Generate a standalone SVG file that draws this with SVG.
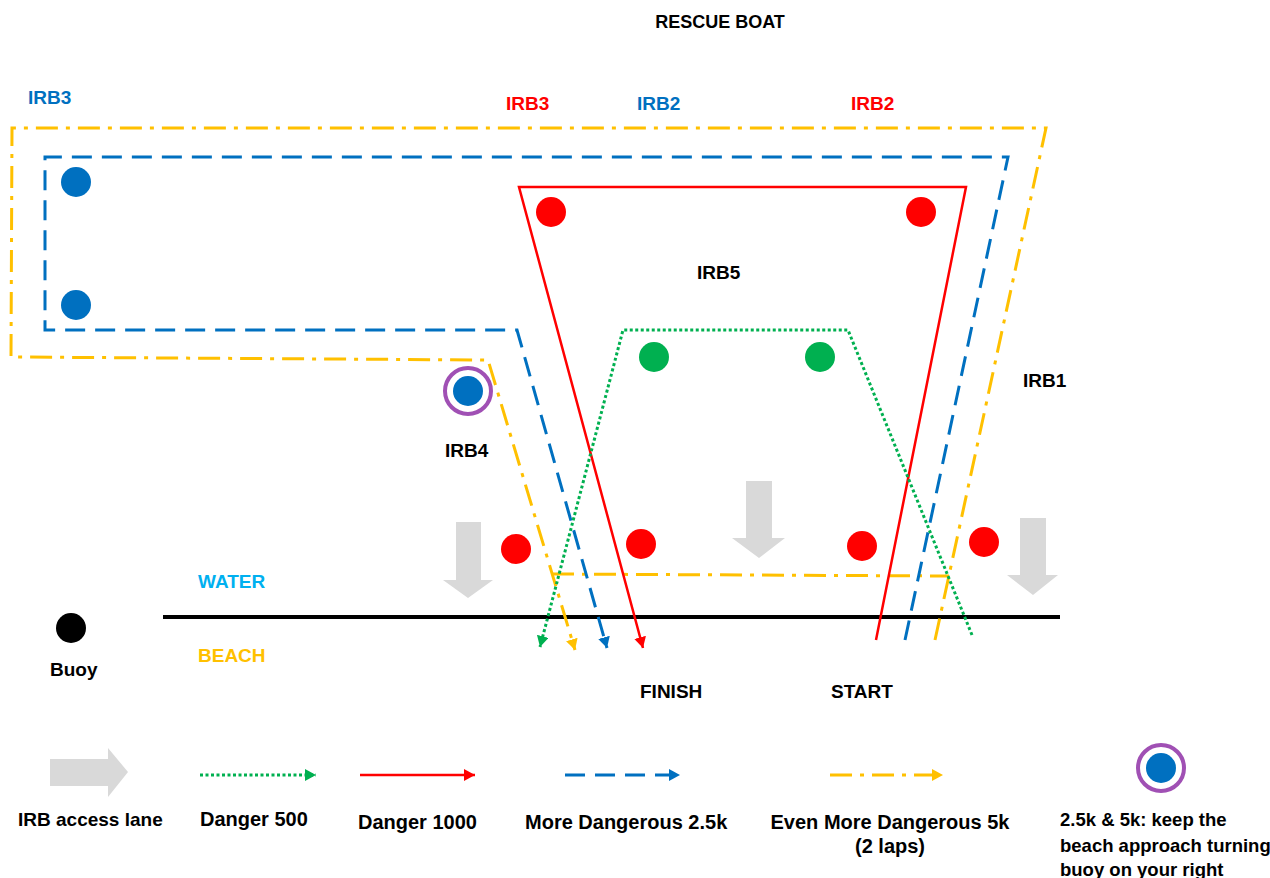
<svg xmlns="http://www.w3.org/2000/svg" width="1270" height="878" viewBox="0 0 1270 878">
<style>
text{font-family:"Liberation Sans",Arial,sans-serif;font-weight:bold;font-size:19px;fill:#000}
.lg{font-size:20px}.lr{font-size:18.5px}.tt{font-size:18px}
.blue{fill:#0070C0}.red{fill:#FF0000}.water{fill:#00B0F0}.beach{fill:#FFC000}
.r{fill:none;stroke:#FF0000;stroke-width:2.5}
.b{fill:none;stroke:#0070C0;stroke-width:3;stroke-dasharray:20 10}
.y{fill:none;stroke:#FFC000;stroke-width:3;stroke-dasharray:22 8 4 8}
.g{fill:none;stroke:#00B050;stroke-width:3;stroke-dasharray:3 2.5}
.lane{fill:#D9D9D9}
.bd{fill:#0070C0}.rd{fill:#FF0000}.gd{fill:#00B050}
.ring{fill:none;stroke:#A050B4;stroke-width:4}
</style>
<defs>
<marker id="ar" markerUnits="userSpaceOnUse" markerWidth="12" markerHeight="12" refX="11" refY="6" orient="auto"><path d="M0,0 L11,6 L0,12 Z" fill="#FF0000"/></marker>
<marker id="ab" markerUnits="userSpaceOnUse" markerWidth="12" markerHeight="12" refX="11" refY="6" orient="auto"><path d="M0,0 L11,6 L0,12 Z" fill="#0070C0"/></marker>
<marker id="ay" markerUnits="userSpaceOnUse" markerWidth="12" markerHeight="12" refX="11" refY="6" orient="auto"><path d="M0,0 L11,6 L0,12 Z" fill="#FFC000"/></marker>
<marker id="ag" markerUnits="userSpaceOnUse" markerWidth="12" markerHeight="12" refX="11" refY="6" orient="auto"><path d="M0,0 L11,6 L0,12 Z" fill="#00B050"/></marker>
</defs>

<g id="shoreline"><line x1="163" y1="617" x2="1060" y2="617" stroke="#000" stroke-width="4"/></g>

<g id="connectors">
<path class="y" d="M935,640 L1046,128 L12,128 L11,357 L488,360 L575,650" marker-end="url(#ay)"/>
<path class="y" d="M552,574 L949,576"/>
<path class="b" d="M905,640 L1008,157 L45,157 L45,330 L517,330 L607,648" marker-end="url(#ab)"/>
<path class="r" d="M876,640 L966,187 L519,187 L643,648" marker-end="url(#ar)"/>
<path class="g" d="M972,635 L848,330 L623,330 L540,647" marker-end="url(#ag)"/>
</g>

<g id="buoys-blue"><circle class="bd" cx="76" cy="182" r="15"/><circle class="bd" cx="76" cy="305" r="15"/></g>
<g id="buoy-irb4"><circle class="ring" cx="468" cy="391" r="23"/><circle class="bd" cx="468" cy="391" r="15"/></g>
<g id="buoys-red"><circle class="rd" cx="551" cy="212" r="15"/><circle class="rd" cx="921" cy="212" r="15"/><circle class="rd" cx="516" cy="549" r="15"/><circle class="rd" cx="641" cy="544" r="15"/><circle class="rd" cx="862" cy="546" r="15"/><circle class="rd" cx="984" cy="542" r="15"/></g>
<g id="buoys-green"><circle class="gd" cx="654" cy="357" r="15"/><circle class="gd" cx="820" cy="357" r="15"/></g>

<g id="lane-1"><polygon class="lane" points="456,522 481,522 481,580 493,580 468,598 443,580 456,580"/></g>
<g id="lane-2"><polygon class="lane" points="746,481 772,481 772,538 785,538 759,558 732,538 746,538"/></g>
<g id="lane-3"><polygon class="lane" points="1020,518 1046,518 1046,575 1058,575 1033,595 1007,575 1020,575"/></g>

<g id="labels">
<text class="tt" x="720" y="28" text-anchor="middle">RESCUE BOAT</text>
<text class="blue" x="28" y="104">IRB3</text>
<text class="red" x="506" y="110">IRB3</text>
<text class="blue" x="637" y="110">IRB2</text>
<text class="red" x="851" y="110">IRB2</text>
<text x="697" y="279">IRB5</text>
<text x="1023" y="387">IRB1</text>
<text x="445" y="457">IRB4</text>
<text class="water" x="198" y="588">WATER</text>
<text class="beach" x="198" y="662">BEACH</text>
<text x="640" y="698">FINISH</text>
<text x="831" y="698">START</text>
</g>
<g id="buoy-key"><circle cx="71" cy="628" r="15" fill="#000"/><text x="50" y="676">Buoy</text></g>

<g id="legend">
<g id="legend-lane"><polygon class="lane" points="50,759 108,759 108,748 128,772 108,797 108,786 50,786"/><text x="18" y="826">IRB access lane</text></g>
<g id="legend-500"><line class="g" x1="200" y1="775" x2="316" y2="775" marker-end="url(#ag)"/><text class="lg" x="200" y="826">Danger 500</text></g>
<g id="legend-1000"><line class="r" x1="360" y1="775" x2="475" y2="775" marker-end="url(#ar)"/><text class="lg" x="358" y="829">Danger 1000</text></g>
<g id="legend-25k"><line class="b" x1="565" y1="775" x2="680" y2="775" marker-end="url(#ab)"/><text class="lg" x="525" y="829">More Dangerous 2.5k</text></g>
<g id="legend-5k"><line class="y" x1="830" y1="775" x2="943" y2="775" marker-end="url(#ay)"/><text class="lg" x="890" y="829" text-anchor="middle">Even More Dangerous 5k</text><text class="lg" x="890" y="853" text-anchor="middle">(2 laps)</text></g>
<g id="legend-turn"><circle class="ring" cx="1161" cy="768" r="23"/><circle class="bd" cx="1161" cy="768" r="15"/>
<text class="lr" x="1060" y="826">2.5k &amp; 5k: keep the</text><text class="lr" x="1060" y="852">beach approach turning</text><text class="lr" x="1060" y="876">buoy on your right</text></g>
</g>
</svg>
